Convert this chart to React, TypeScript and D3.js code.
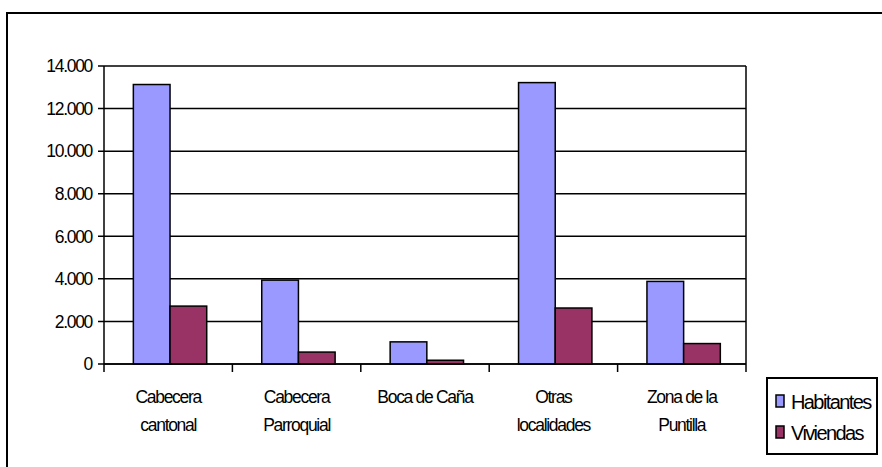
import React from "react";
import * as d3 from "d3";

const categories: string[][] = [
  ["Cabecera", "cantonal"],
  ["Cabecera", "Parroquial"],
  ["Boca de Caña"],
  ["Otras", "localidades"],
  ["Zona de la", "Puntilla"],
];
const habitantes: number[] = [13130, 3940, 1040, 13220, 3880];
const viviendas: number[] = [2720, 560, 176, 2630, 960];
const seriesNames: string[] = ["Habitantes", "Viviendas"];
const seriesColors: string[] = ["#9999FF", "#993366"];
const yTicks: number[] = [0, 2000, 4000, 6000, 8000, 10000, 12000, 14000];

const fmt = (v: number) => d3.format(",")(v).replace(/,/g, ".");

export default function App() {
  const W = 882, H = 467;
  const left = 104, right = 746, top = 66, bottom = 364;
  const x = d3.scaleBand<number>().domain(d3.range(categories.length)).range([left, right]).paddingInner(0).paddingOuter(0);
  const y = d3.scaleLinear().domain([0, 14000]).range([bottom, top]);
  const bw = x.bandwidth();
  const barW = bw / 3.5;
  const font = "'Liberation Sans', Arial, sans-serif";
  const series = [habitantes, viviendas];

  return (
    <svg width={W} height={H} style={{ position: "absolute", left: 0, top: 0, background: "#fff" }}>
      <rect x={7} y={13} width={W + 20} height={H + 20} fill="#fff" stroke="#000" strokeWidth={2} />
      {yTicks.map((t) => (
        <g key={t}>
          <line x1={left - 6} x2={right} y1={y(t)} y2={y(t)} stroke="#000" strokeWidth={1.5} />
          <text x={92} y={y(t)} dy="0.36em" textAnchor="end" fontFamily={font} fontSize={17.5} letterSpacing={-1.3} fill="#000">
            {fmt(t)}
          </text>
        </g>
      ))}
      <line x1={left} x2={left} y1={top} y2={bottom} stroke="#000" strokeWidth={1.5} />
      <line x1={right} x2={right} y1={top} y2={bottom} stroke="#000" strokeWidth={1.5} />
      {d3.range(categories.length + 1).map((i) => {
        const xx = left + i * bw;
        return <line key={i} x1={xx} x2={xx} y1={bottom} y2={bottom + 8} stroke="#000" strokeWidth={1.5} />;
      })}
      {series.map((vals, s) =>
        vals.map((v, i) => {
          const x0 = (x(i) as number) + bw * 0.8 / 3.5 + s * barW;
          return (
            <rect key={`${s}-${i}`} x={x0} y={y(v)} width={barW} height={bottom - y(v)} fill={seriesColors[s]} stroke="#000" strokeWidth={1.5} />
          );
        })
      )}
      <line x1={left} x2={right} y1={bottom} y2={bottom} stroke="#000" strokeWidth={1.5} />
      {categories.map((lines, i) => (
        <text key={i} textAnchor="middle" fontFamily={font} fontSize={17.5} letterSpacing={-1.3} fill="#000">
          {lines.map((l, j) => (
            <tspan key={j} x={(x(i) as number) + bw / 2} y={403 + j * 28}>
              {l}
            </tspan>
          ))}
        </text>
      ))}
      <rect x={767} y={378} width={110} height={76} fill="#fff" stroke="#000" strokeWidth={2} />
      {seriesNames.map((n, s) => (
        <g key={n}>
          <rect x={776} y={395 + s * 31} width={8} height={12} fill={seriesColors[s]} stroke="#000" strokeWidth={1.5} />
          <text x={791} y={409 + s * 31} fontFamily={font} fontSize={20} letterSpacing={-1.6} fill="#000">
            {n}
          </text>
        </g>
      ))}
    </svg>
  );
}
